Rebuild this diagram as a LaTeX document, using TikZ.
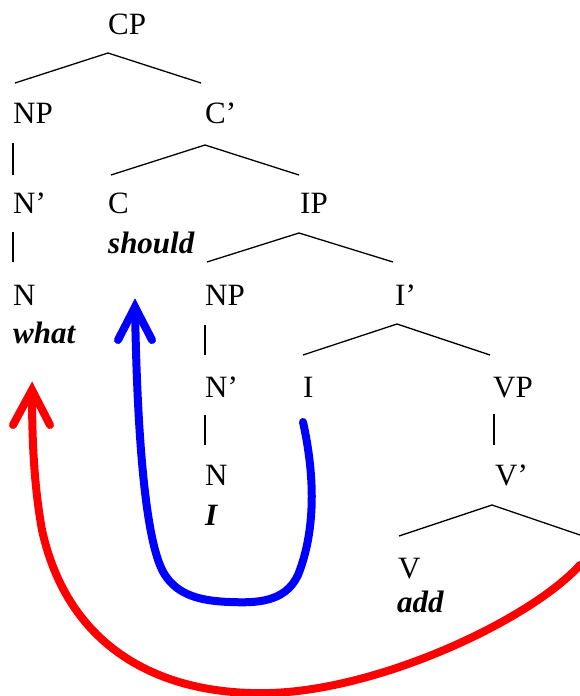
\documentclass[tikz,border=0pt]{standalone}
\usepackage{fontspec}
\setmainfont{Liberation Serif}
\begin{document}
\begin{tikzpicture}[x=1pt,y=-1pt,
 lab/.style={anchor=base west,inner sep=0pt,font=\fontsize{31}{31}\selectfont},
 word/.style={anchor=base west,inner sep=0pt,font=\fontsize{31}{31}\selectfont\bfseries\itshape},
 branch/.style={line width=1.3pt},
 mv/.style={line width=8pt,line cap=round,line join=round}]
\useasboundingbox (0,0) rectangle (580,696);
% labels
\node[lab] (cp) at (108,34) {CP};
\node[lab] (np1) at (13,123) {NP};
\node[lab] (cbar) at (205,123) {C’};
\node[lab] (nbar1) at (13,213) {N’};
\node[lab] (c) at (108,213) {C};
\node[word] (should) at (108,253) {should};
\node[lab] (ip) at (300,213) {IP};
\node[lab] (n1) at (13,305) {N};
\node[word] (what) at (13,343) {what};
\node[lab] (np2) at (205,305) {NP};
\node[lab] (ibar) at (395,305) {I’};
\node[lab] (nbar2) at (205,397) {N’};
\node[lab] (i) at (303,397) {I};
\node[lab] (vp) at (493,397) {VP};
\node[lab] (n2) at (205,485) {N};
\node[word] (pron) at (205,525) {I};
\node[lab] (vbar) at (495,485) {V’};
\node[lab] (v) at (398,578) {V};
\node[word] (add) at (397,612) {add};
% branch points
\coordinate (cpA) at (108,53);  \coordinate (cpL) at (15,83);  \coordinate (cpR) at (201,83);
\coordinate (np1A) at (13,143); \coordinate (np1B) at (13,175);
\coordinate (cbA) at (205,145); \coordinate (cbL) at (111,175); \coordinate (cbR) at (299,175);
\coordinate (nb1A) at (13,232); \coordinate (nb1B) at (13,262);
\coordinate (ipA) at (299,233); \coordinate (ipL) at (207,262); \coordinate (ipR) at (393,262);
\coordinate (np2A) at (205,325); \coordinate (np2B) at (205,355);
\coordinate (ibA) at (397,324); \coordinate (ibL) at (303,355); \coordinate (ibR) at (490,355);
\coordinate (nb2A) at (205,415); \coordinate (nb2B) at (205,445);
\coordinate (vpA) at (494,414); \coordinate (vpB) at (494,445);
\coordinate (vbA) at (492,505); \coordinate (vbL) at (399,536); \coordinate (vbR) at (580,535);
\draw[branch] (cpL) -- (cpA) -- (cpR);
\draw[branch] (np1A) -- (np1B);
\draw[branch] (cbL) -- (cbA) -- (cbR);
\draw[branch] (nb1A) -- (nb1B);
\draw[branch] (ipL) -- (ipA) -- (ipR);
\draw[branch] (np2A) -- (np2B);
\draw[branch] (ibL) -- (ibA) -- (ibR);
\draw[branch] (nb2A) -- (nb2B);
\draw[branch] (vpA) -- (vpB);
\draw[branch] (vbL) -- (vbA) -- (vbR);
% movement arrows
\coordinate (bS) at (303,422);
\coordinate (bT) at (135,307);
\coordinate (bL) at (118,340); \coordinate (bR) at (152,340);
\draw[mv,blue] (bS) .. controls (318,490) and (312,540) .. (298,575)
  .. controls (285,603) and (255,603) .. (230,602)
  .. controls (200,601) and (178,595) .. (165,575)
  .. controls (145,545) and (137,430) .. (bT);
\draw[mv,blue,line cap=round,line join=miter] (bL) -- (bT) -- (bR);
\coordinate (rS) at (580,565);
\coordinate (rT) at (32,390);
\coordinate (rL) at (13,425); \coordinate (rR) at (50,425);
\draw[mv,red] (rS) .. controls (530,620) and (380,690) .. (270,693)
  .. controls (160,696) and (68,648) .. (42,530)
  .. controls (33,480) and (32,430) .. (rT);
\draw[mv,red,line cap=round,line join=miter] (rL) -- (rT) -- (rR);
\end{tikzpicture}
\end{document}
